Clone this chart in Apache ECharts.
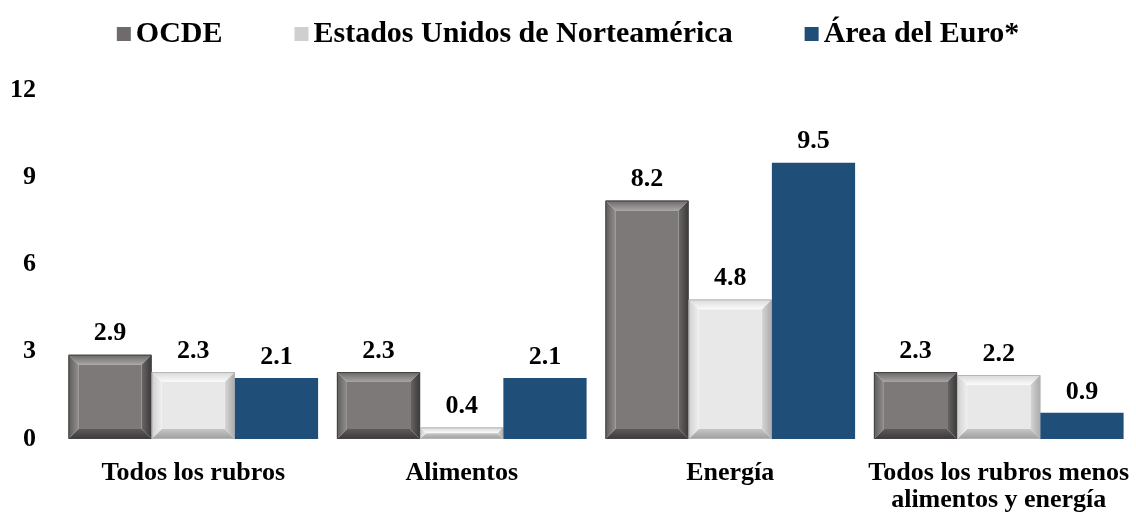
<!DOCTYPE html>
<html>
<head>
<meta charset="utf-8">
<script src="https://cdn.jsdelivr.net/npm/echarts@6/dist/echarts.min.js"></script>
<style>
  html, body { margin: 0; padding: 0; background: #ffffff; }
  #chart { width: 1136px; height: 514px; }
</style>
</head>
<body>
<div id="chart"></div>
<script>
// Variación interanual de precios por rubro
const categories = ['Todos los rubros', 'Alimentos', 'Energía', 'Todos los rubros menos\nalimentos y energía'];
const seriesNames = ['OCDE', 'Estados Unidos de Norteamérica', 'Área del Euro*'];
const ocdeValues = [2.9, 2.3, 8.2, 2.3];
const usaValues = [2.3, 0.4, 4.8, 2.2];
const euroValues = [2.1, 2.1, 9.5, 0.9];
const yTicks = [0, 3, 6, 9, 12];

const FONT = '"Liberation Serif", "Times New Roman", serif';
const CAT_GAP = 0.07;

// Facet palettes for the bevelled bars ([outer, inner] tones per facet)
const palettes = [
  { face: '#7d7978', top: ['#6a6867', '#a8a5a4'], left: ['#5e5c5b', '#918e8d'],
    right: ['#3a3838', '#6a6766'], bottom: ['#3c3a39', '#5d5a59'], stroke: '#444242' },
  { face: '#e8e8e8', top: ['#d9d9d9', '#fbfbfb'], left: ['#cfcfcf', '#efefef'],
    right: ['#a9a9a9', '#d6d6d6'], bottom: ['#9e9e9e', '#c6c6c6'], stroke: '#b4b4b4' },
  null
];
const euroColor = '#1f4e79';

function grad(x0, y0, x1, y1, c) {
  return new echarts.graphic.LinearGradient(x0, y0, x1, y1, [
    { offset: 0, color: c[0] }, { offset: 1, color: c[1] }
  ]);
}

function renderBar(params, api) {
  const idx = params.seriesIndex;
  const cat = api.value(0);
  const val = api.value(1);
  const base = api.coord([cat, 0]);
  const top = api.coord([cat, val]);
  const band = api.size([1, 0])[0];
  const groupW = band * (1 - CAT_GAP);
  const w = groupW / 3;
  const x = base[0] - groupW / 2 + idx * w;
  const y0 = top[1];
  const y1 = base[1];
  const h = y1 - y0;
  const children = [];
  const pal = palettes[idx];

  if (!pal) {
    children.push({ type: 'rect', shape: { x: x, y: y0, width: w, height: h },
      style: { fill: euroColor } });
  } else {
    const b = Math.min(10, h / 2, w / 2);
    // outer bevel facets
    children.push({ type: 'polygon', shape: { points: [[x, y0], [x + w, y0], [x + w - b, y0 + b], [x + b, y0 + b]] },
      style: { fill: grad(0, 0, 0, 1, pal.top) } });
    children.push({ type: 'polygon', shape: { points: [[x, y1], [x + w, y1], [x + w - b, y1 - b], [x + b, y1 - b]] },
      style: { fill: grad(0, 1, 0, 0, pal.bottom) } });
    children.push({ type: 'polygon', shape: { points: [[x, y0], [x + b, y0 + b], [x + b, y1 - b], [x, y1]] },
      style: { fill: grad(0, 0, 1, 0, pal.left) } });
    children.push({ type: 'polygon', shape: { points: [[x + w, y0], [x + w - b, y0 + b], [x + w - b, y1 - b], [x + w, y1]] },
      style: { fill: grad(1, 0, 0, 0, pal.right) } });
    // flat inner face
    children.push({ type: 'rect', shape: { x: x + b, y: y0 + b, width: Math.max(0, w - 2 * b), height: Math.max(0, h - 2 * b) },
      style: { fill: pal.face } });
    // thin outline
    children.push({ type: 'rect', shape: { x: x + 0.5, y: y0 + 0.5, width: w - 1, height: h - 1 },
      style: { fill: null, stroke: pal.stroke, lineWidth: 1 } });
  }
  // value label above the bar
  children.push({ type: 'text', x: x + w / 2, y: y0 - 8,
    style: { text: val.toFixed(1), font: 'bold 26px ' + FONT, fill: '#000', align: 'center', verticalAlign: 'bottom' } });
  return { type: 'group', children: children };
}

const seriesColors = ['#6e6b6a', '#cfcfcf', euroColor];
const valueSets = [ocdeValues, usaValues, euroValues];

const chart = echarts.init(document.getElementById('chart'), null, { renderer: 'canvas' });
chart.setOption({
  animation: false,
  backgroundColor: '#ffffff',
  legend: {
    top: 14,
    left: 'center',
    icon: 'rect',
    itemWidth: 14,
    itemHeight: 14,
    itemGap: 72,
    textStyle: { fontFamily: FONT, fontWeight: 'bold', fontSize: 30, color: '#000' },
    data: seriesNames
  },
  grid: { left: 59, right: 3, top: 90, bottom: 74, containLabel: false },
  xAxis: {
    type: 'category',
    data: categories,
    axisLine: { show: false },
    axisTick: { show: false },
    axisLabel: { margin: 21, fontFamily: FONT, fontWeight: 'bold', fontSize: 26, color: '#000', lineHeight: 27, interval: 0 }
  },
  yAxis: {
    type: 'value',
    min: yTicks[0],
    max: yTicks[yTicks.length - 1],
    interval: yTicks[1] - yTicks[0],
    splitLine: { show: false },
    axisLine: { show: false },
    axisTick: { show: false },
    axisLabel: { margin: 23, fontFamily: FONT, fontWeight: 'bold', fontSize: 26, color: '#000' }
  },
  series: seriesNames.map((name, i) => ({
    name: name,
    type: 'custom',
    renderItem: renderBar,
    itemStyle: { color: seriesColors[i] },
    encode: { x: 0, y: 1 },
    clip: false,
    data: valueSets[i].map((v, k) => [k, v])
  }))
});
</script>
</body>
</html>
